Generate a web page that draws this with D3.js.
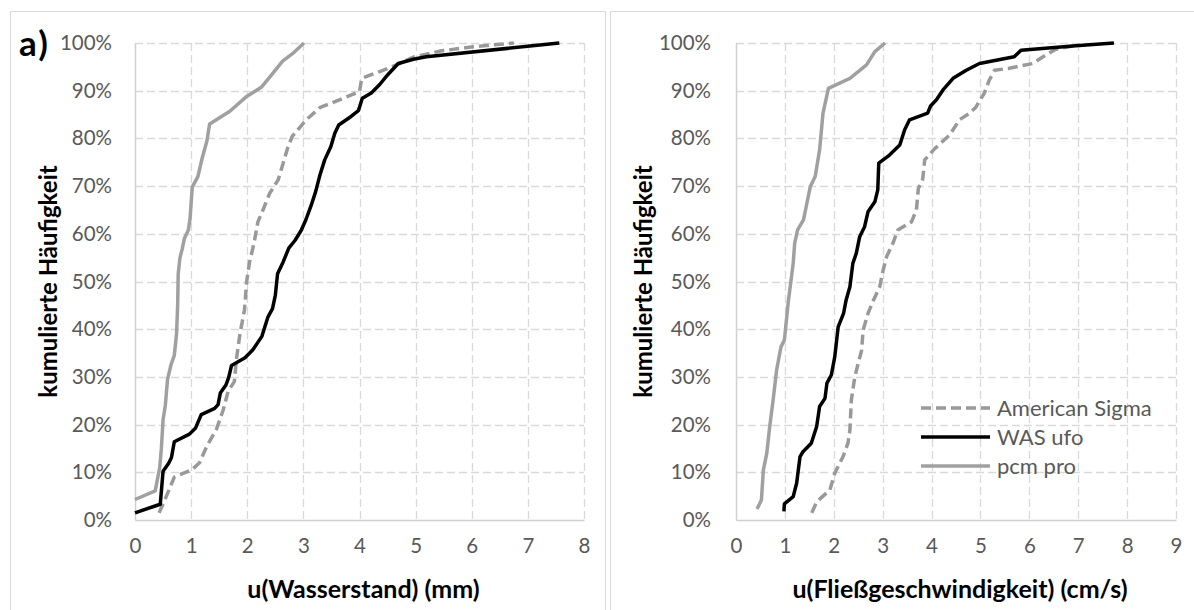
<!DOCTYPE html>
<html>
<head>
<meta charset="utf-8">
<script src="https://cdn.jsdelivr.net/npm/d3@7"></script>
<style>
  html, body { margin: 0; padding: 0; background: #fff; }
  svg { display: block; }
  text { font-family: Lato, "Open Sans", sans-serif; }
</style>
</head>
<body>
<svg id="chart" width="1194" height="610"></svg>
<script>
// Cumulative frequency of measurement uncertainty, three flow meters.
const seriesNames = ["American Sigma", "WAS ufo", "pcm pro"];
const yTicks = [0, 10, 20, 30, 40, 50, 60, 70, 80, 90, 100];

// Panel a: u(Wasserstand) in mm  -> [x, cumulative %]
const levelSigma = [[0.43,1.5],[0.56,5.0],[0.70,9.0],[1.01,10.5],[1.15,12.0],[1.28,15.5],[1.45,19.0],[1.57,23.0],[1.66,27.0],[1.77,29.0],[1.81,34.0],[1.87,39.0],[1.95,44.0],[1.99,50.0],[2.04,54.0],[2.12,58.0],[2.19,62.5],[2.28,65.0],[2.40,68.5],[2.55,71.3],[2.64,74.8],[2.72,78.0],[2.80,80.4],[3.05,83.9],[3.30,86.5],[3.71,88.4],[4.00,89.8],[4.04,92.6],[4.36,94.0],[4.68,95.5],[4.95,97.0],[5.43,98.3],[6.02,99.2],[6.75,100]];
const levelWas = [[0.00,1.5],[0.45,3.3],[0.50,10.2],[0.60,11.9],[0.65,13.1],[0.70,16.4],[0.97,18.0],[1.08,19.3],[1.18,22.1],[1.42,23.4],[1.48,24.2],[1.52,26.6],[1.62,28.3],[1.67,29.9],[1.72,32.4],[1.96,34.0],[2.10,35.7],[2.26,38.5],[2.37,42.6],[2.45,44.3],[2.50,47.1],[2.54,51.6],[2.64,54.1],[2.74,57.0],[2.85,58.6],[2.96,60.7],[3.05,63.1],[3.14,66.0],[3.22,68.9],[3.29,72.1],[3.38,75.5],[3.49,78.3],[3.56,81.1],[3.63,82.8],[3.85,84.6],[3.98,85.8],[4.05,88.4],[4.21,89.5],[4.36,91.3],[4.50,93.3],[4.69,95.7],[4.96,96.6],[5.19,97.1],[7.56,100]];
const levelPcm = [[0.00,4.3],[0.36,6.1],[0.44,11.0],[0.47,15.0],[0.50,21.0],[0.54,24.0],[0.58,29.5],[0.64,32.5],[0.70,34.5],[0.74,39.0],[0.76,45.0],[0.77,51.6],[0.80,54.9],[0.84,56.8],[0.88,59.0],[0.95,60.8],[0.98,63.1],[1.02,69.8],[1.12,72.0],[1.16,74.0],[1.20,76.0],[1.28,79.4],[1.33,83.0],[1.69,85.7],[1.99,88.8],[2.25,90.7],[2.44,93.4],[2.63,96.2],[2.83,98.0],[3.01,100]];

// Panel b: u(Fließgeschwindigkeit) in cm/s -> [x, cumulative %]
const velocitySigma = [[1.55,1.5],[1.65,3.8],[1.92,6.3],[2.02,9.8],[2.19,13.3],[2.29,16.1],[2.33,18.9],[2.36,25.2],[2.43,30.0],[2.50,32.9],[2.57,35.6],[2.60,39.8],[2.70,43.3],[2.80,45.8],[2.94,48.9],[3.01,52.4],[3.08,55.2],[3.21,58.0],[3.31,60.8],[3.59,62.5],[3.69,65.0],[3.73,69.5],[3.82,71.5],[3.86,75.5],[4.06,77.8],[4.37,80.7],[4.57,83.9],[4.78,85.3],[4.91,86.6],[5.08,89.5],[5.18,92.2],[5.29,94.3],[5.59,94.7],[6.07,95.7],[6.34,97.5],[6.54,98.7],[7.00,99.6]];
const velocityWas = [[0.98,1.8],[0.99,3.4],[1.17,4.9],[1.24,7.7],[1.31,13.3],[1.37,14.3],[1.54,16.1],[1.65,19.6],[1.71,23.8],[1.82,25.5],[1.86,28.7],[1.95,30.4],[2.02,34.2],[2.09,40.5],[2.20,43.3],[2.25,46.0],[2.33,48.9],[2.39,53.8],[2.46,55.9],[2.53,59.4],[2.63,61.5],[2.70,64.6],[2.84,66.7],[2.90,69.2],[2.92,74.8],[3.14,76.5],[3.35,78.6],[3.45,81.8],[3.55,83.9],[3.92,85.3],[3.98,86.8],[4.10,88.1],[4.23,90.1],[4.44,92.6],[4.71,94.3],[4.98,95.7],[5.69,97.1],[5.83,98.5],[6.95,99.4],[7.73,100]];
const velocityPcm = [[0.43,2.3],[0.52,4.2],[0.56,10.5],[0.63,14.0],[0.69,19.6],[0.76,25.2],[0.83,31.4],[0.92,36.3],[0.99,37.7],[1.07,45.8],[1.17,53.8],[1.20,58.0],[1.26,60.8],[1.38,62.9],[1.45,66.4],[1.52,69.9],[1.62,72.0],[1.71,77.6],[1.78,85.3],[1.89,90.5],[2.33,92.6],[2.67,95.4],[2.84,98.2],[3.05,100]];

const svg = d3.select("#chart");
const styles = [
  { color: "#999999", dash: "10,5" },
  { color: "#000000", dash: null },
  { color: "#a0a0a0", dash: null }
];

function panel(cfg) {
  // outer frame of the panel
  svg.append("rect")
    .attr("x", cfg.frame[0] + 0.5).attr("y", 11.5)
    .attr("width", cfg.frame[1] - cfg.frame[0]).attr("height", 620)
    .attr("fill", "none").attr("stroke", "#d9d9d9").attr("stroke-width", 1);

  const x = d3.scaleLinear().domain([0, cfg.xMax]).range([cfg.left, cfg.right]);
  const y = d3.scaleLinear().domain([0, 100]).range([520, 43]);
  const g = svg.append("g");

  // dashed grid
  g.append("g").selectAll("line").data(yTicks.slice(1)).join("line")
    .attr("x1", cfg.left).attr("x2", cfg.right)
    .attr("y1", d => Math.round(y(d)) + 0.5).attr("y2", d => Math.round(y(d)) + 0.5)
    .attr("stroke", "#d9d9d9").attr("stroke-width", 1.3).attr("stroke-dasharray", "8,4");
  g.append("g").selectAll("line").data(d3.range(1, cfg.xMax + 1)).join("line")
    .attr("y1", 43).attr("y2", 520)
    .attr("x1", d => Math.round(x(d)) + 0.5).attr("x2", d => Math.round(x(d)) + 0.5)
    .attr("stroke", "#d9d9d9").attr("stroke-width", 1.3).attr("stroke-dasharray", "8,4");

  // axes: solid baseline and left line, with labels
  const xAxis = d3.axisBottom(x).tickValues(d3.range(0, cfg.xMax + 1)).tickSize(0).tickPadding(18);
  const xg = g.append("g").attr("transform", "translate(0,520)").call(xAxis);
  xg.select(".domain").attr("stroke", "#d0d0d0").attr("stroke-width", 1.5);
  xg.selectAll("text").attr("fill", "#595959").attr("font-size", 20.5).attr("font-family", "Lato, sans-serif");

  const yAxis = d3.axisLeft(y).tickValues(yTicks).tickSize(0).tickPadding(cfg.yPad).tickFormat(d => d + "%");
  const yg = g.append("g").attr("transform", `translate(${cfg.left},0)`).call(yAxis);
  yg.select(".domain").attr("stroke", "#d0d0d0").attr("stroke-width", 1.5);
  yg.selectAll("text").attr("fill", "#595959").attr("font-size", 20.5).attr("font-family", "Lato, sans-serif");

  // axis titles
  svg.append("text")
    .attr("x", (cfg.left + cfg.right) / 2 + 4).attr("y", 598)
    .attr("text-anchor", "middle").attr("font-size", 25).attr("font-weight", "bold").attr("fill", "#000")
    .text(cfg.xTitle);
  svg.append("text")
    .attr("transform", `translate(${cfg.yTitleX},${(43 + 520) / 2}) rotate(-90)`)
    .attr("text-anchor", "middle").attr("font-size", 24).attr("font-weight", "bold").attr("fill", "#000")
    .text("kumulierte Häufigkeit");

  // cumulative curves
  const line = d3.line().x(d => x(d[0])).y(d => y(d[1]));
  cfg.series.forEach((s, i) => {
    g.append("path").datum(s)
      .attr("d", line)
      .attr("fill", "none")
      .attr("stroke", styles[i].color)
      .attr("stroke-width", 3.5)
      .attr("stroke-linejoin", "round")
      .attr("stroke-dasharray", styles[i].dash);
  });
  return { x, y };
}

panel({
  frame: [10, 605], left: 135, right: 584, xMax: 8, yPad: 23, yTitleX: 57,
  xTitle: "u(Wasserstand) (mm)",
  series: [levelSigma, levelWas, levelPcm]
});
panel({
  frame: [610, 1200], left: 736, right: 1176, xMax: 9, yPad: 25, yTitleX: 652,
  xTitle: "u(Fließgeschwindigkeit) (cm/s)",
  series: [velocitySigma, velocityWas, velocityPcm]
});

// panel tag
svg.append("text").attr("x", 19).attr("y", 56).attr("letter-spacing", 2)
  .attr("font-size", 35).attr("font-weight", "bold").attr("fill", "#000").text("a)");

// legend (right panel)
const legend = svg.append("g").attr("transform", "translate(921,408)");
seriesNames.forEach((name, i) => {
  const row = legend.append("g").attr("transform", `translate(0,${i * 29})`);
  row.append("line").attr("x1", 0).attr("x2", 69).attr("y1", 0).attr("y2", 0)
    .attr("stroke", styles[i].color).attr("stroke-width", 3.5)
    .attr("stroke-dasharray", styles[i].dash);
  row.append("text").attr("x", 76).attr("y", 0).attr("dy", "0.35em")
    .attr("font-size", 22).attr("fill", "#595959").text(name);
});
</script>
</body>
</html>
